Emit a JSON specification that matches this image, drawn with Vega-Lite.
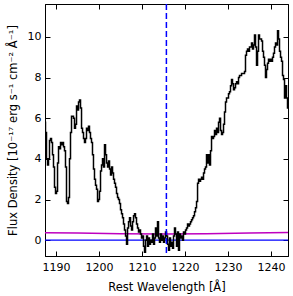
{
  "$schema": "https://vega.github.io/schema/vega-lite/v6.json",
  "width": 243,
  "height": 252,
  "autosize": {"type": "none"},
  "padding": {"left": 45, "top": 4, "right": 5, "bottom": 40},
  "background": "white",
  "config": {
    "view": {"stroke": "black", "strokeWidth": 1},
    "font": "DejaVu Sans",
    "axis": {
      "domainColor": "black", "tickColor": "black", "labelColor": "black", "titleColor": "black",
      "grid": false, "tickSize": -5, "labelFontSize": 11, "titleFontSize": 11.5, "titleFontWeight": "normal",
      "labelFont": "DejaVu Sans", "titleFont": "DejaVu Sans", "format": "d"
    }
  },
  "datasets": {
    "spec": [
      {"w":1187.44,"f":5.8},{"w":1187.67,"f":5.3},{"w":1187.91,"f":4.0},{"w":1188.14,"f":3.7},{"w":1188.37,"f":4.0},{"w":1188.60,"f":4.9},{"w":1188.84,"f":5.0},{"w":1189.07,"f":4.8},{"w":1189.30,"f":4.2},{"w":1189.53,"f":3.6},
      {"w":1189.77,"f":2.6},{"w":1190.00,"f":2.3},{"w":1190.24,"f":2.4},{"w":1190.47,"f":3.8},{"w":1190.70,"f":4.6},{"w":1190.93,"f":4.5},{"w":1191.17,"f":4.8},{"w":1191.40,"f":4.7},{"w":1191.63,"f":4.8},{"w":1191.86,"f":4.6},
      {"w":1192.09,"f":4.4},{"w":1192.32,"f":3.6},{"w":1192.56,"f":1.9},{"w":1192.79,"f":1.8},{"w":1193.02,"f":2.1},{"w":1193.25,"f":4.0},{"w":1193.49,"f":5.3},{"w":1193.72,"f":6.1},{"w":1193.95,"f":6.1},{"w":1194.18,"f":6.0},
      {"w":1194.42,"f":5.5},{"w":1194.65,"f":5.7},{"w":1194.89,"f":6.6},{"w":1195.12,"f":6.4},{"w":1195.35,"f":6.8},{"w":1195.58,"f":6.9},{"w":1195.82,"f":6.5},{"w":1196.05,"f":5.5},{"w":1196.28,"f":5.3},{"w":1196.51,"f":5.0},
      {"w":1196.74,"f":4.8},{"w":1196.97,"f":5.0},{"w":1197.21,"f":5.5},{"w":1197.44,"f":5.4},{"w":1197.67,"f":5.6},{"w":1197.90,"f":5.3},{"w":1198.14,"f":5.0},{"w":1198.37,"f":4.8},{"w":1198.60,"f":4.2},{"w":1198.83,"f":3.5},
      {"w":1199.07,"f":3.0},{"w":1199.30,"f":2.7},{"w":1199.54,"f":2.5},{"w":1199.77,"f":1.9},{"w":1200.00,"f":2.0},{"w":1200.23,"f":2.4},{"w":1200.47,"f":3.4},{"w":1200.70,"f":3.7},{"w":1200.93,"f":4.0},{"w":1201.16,"f":3.6},
      {"w":1201.40,"f":4.7},{"w":1201.63,"f":4.2},{"w":1201.87,"f":3.8},{"w":1202.10,"f":3.6},{"w":1202.33,"f":3.9},{"w":1202.56,"f":3.5},{"w":1202.80,"f":3.2},{"w":1203.03,"f":3.6},{"w":1203.26,"f":3.3},{"w":1203.49,"f":3.0},
      {"w":1203.72,"f":2.8},{"w":1203.95,"f":2.6},{"w":1204.19,"f":2.3},{"w":1204.42,"f":2.1},{"w":1204.65,"f":2.0},{"w":1204.88,"f":1.8},{"w":1205.12,"f":1.5},{"w":1205.35,"f":1.3},{"w":1205.58,"f":1.1},{"w":1205.81,"f":0.8},
      {"w":1206.05,"f":0.5},{"w":1206.28,"f":0.2},{"w":1206.52,"f":-0.2},{"w":1206.75,"f":0.6},{"w":1206.98,"f":0.9},{"w":1207.21,"f":1.1},{"w":1207.45,"f":0.7},{"w":1207.68,"f":0.5},{"w":1207.91,"f":0.9},{"w":1208.14,"f":1.2},
      {"w":1208.37,"f":1.3},{"w":1208.60,"f":1.1},{"w":1208.84,"f":0.8},{"w":1209.07,"f":0.6},{"w":1209.30,"f":0.4},{"w":1209.53,"f":0.5},{"w":1209.77,"f":0.3},{"w":1210.00,"f":0.1},{"w":1210.23,"f":0.2},{"w":1210.46,"f":-0.3},
      {"w":1210.70,"f":-0.6},{"w":1210.93,"f":0.0},{"w":1211.17,"f":0.2},{"w":1211.40,"f":-0.3},{"w":1211.63,"f":0.1},{"w":1211.86,"f":-0.2},{"w":1212.10,"f":0.0},{"w":1212.33,"f":-0.1},{"w":1212.56,"f":0.3},{"w":1212.79,"f":-0.2},
      {"w":1213.02,"f":0.1},{"w":1213.25,"f":0.6},{"w":1213.49,"f":0.2},{"w":1213.72,"f":0.9},{"w":1213.95,"f":0.1},{"w":1214.18,"f":-0.1},{"w":1214.42,"f":0.3},{"w":1214.65,"f":0.0},{"w":1214.88,"f":0.2},{"w":1215.11,"f":-0.1},
      {"w":1215.35,"f":0.1},{"w":1215.58,"f":0.4},{"w":1215.82,"f":0.2},{"w":1216.05,"f":-0.2},{"w":1216.28,"f":-0.5},{"w":1216.51,"f":0.1},{"w":1216.75,"f":-0.3},{"w":1216.98,"f":-0.1},{"w":1217.21,"f":-0.4},{"w":1217.44,"f":0.2},
      {"w":1217.67,"f":0.6},{"w":1217.90,"f":0.3},{"w":1218.14,"f":-0.3},{"w":1218.37,"f":0.4},{"w":1218.60,"f":-0.5},{"w":1218.83,"f":0.3},{"w":1219.07,"f":0.1},{"w":1219.30,"f":0.2},{"w":1219.53,"f":0.0},{"w":1219.76,"f":0.4},
      {"w":1220.00,"f":0.3},{"w":1220.23,"f":0.5},{"w":1220.47,"f":0.6},{"w":1220.70,"f":0.8},{"w":1220.93,"f":0.7},{"w":1221.16,"f":0.8},{"w":1221.40,"f":0.9},{"w":1221.63,"f":1.0},{"w":1221.86,"f":1.1},{"w":1222.09,"f":1.2},
      {"w":1222.33,"f":1.4},{"w":1222.56,"f":1.6},{"w":1222.80,"f":1.9},{"w":1223.03,"f":2.8},{"w":1223.26,"f":3.0},{"w":1223.49,"f":2.9},{"w":1223.73,"f":3.0},{"w":1223.96,"f":3.1},{"w":1224.19,"f":3.0},{"w":1224.42,"f":3.3},
      {"w":1224.65,"f":3.5},{"w":1224.88,"f":3.6},{"w":1225.12,"f":4.2},{"w":1225.35,"f":3.8},{"w":1225.58,"f":4.2},{"w":1225.81,"f":3.7},{"w":1226.05,"f":4.4},{"w":1226.28,"f":5.1},{"w":1226.51,"f":5.0},{"w":1226.74,"f":5.1},
      {"w":1226.98,"f":5.4},{"w":1227.21,"f":5.2},{"w":1227.45,"f":5.5},{"w":1227.68,"f":5.3},{"w":1227.91,"f":5.8},{"w":1228.14,"f":6.0},{"w":1228.38,"f":5.4},{"w":1228.61,"f":5.2},{"w":1228.84,"f":5.3},{"w":1229.07,"f":5.7},
      {"w":1229.30,"f":6.3},{"w":1229.53,"f":6.8},{"w":1229.77,"f":7.0},{"w":1230.00,"f":7.0},{"w":1230.23,"f":7.2},{"w":1230.46,"f":7.3},{"w":1230.70,"f":7.6},{"w":1230.93,"f":7.9},{"w":1231.16,"f":7.7},{"w":1231.39,"f":7.4},
      {"w":1231.63,"f":7.5},{"w":1231.86,"f":7.7},{"w":1232.10,"f":7.8},{"w":1232.33,"f":7.7},{"w":1232.56,"f":8.0},{"w":1232.79,"f":8.1},{"w":1233.03,"f":8.1},{"w":1233.26,"f":8.2},{"w":1233.49,"f":8.2},{"w":1233.72,"f":8.2},
      {"w":1233.95,"f":8.3},{"w":1234.18,"f":9.1},{"w":1234.42,"f":9.3},{"w":1234.65,"f":9.4},{"w":1234.88,"f":9.3},{"w":1235.11,"f":9.5},{"w":1235.35,"f":9.5},{"w":1235.58,"f":9.7},{"w":1235.81,"f":9.4},{"w":1236.04,"f":9.6},
      {"w":1236.28,"f":10.1},{"w":1236.51,"f":9.5},{"w":1236.75,"f":8.6},{"w":1236.98,"f":9.3},{"w":1237.21,"f":10.1},{"w":1237.44,"f":9.9},{"w":1237.68,"f":9.9},{"w":1237.91,"f":9.8},{"w":1238.14,"f":9.3},{"w":1238.37,"f":9.0},
      {"w":1238.60,"f":8.6},{"w":1238.83,"f":8.0},{"w":1239.07,"f":8.4},{"w":1239.30,"f":8.7},{"w":1239.53,"f":8.9},{"w":1239.76,"f":8.8},{"w":1240.00,"f":8.9},{"w":1240.23,"f":8.8},{"w":1240.46,"f":9.0},{"w":1240.69,"f":9.2},
      {"w":1240.93,"f":9.5},{"w":1241.16,"f":9.7},{"w":1241.40,"f":9.6},{"w":1241.63,"f":10.3},{"w":1241.86,"f":9.9},{"w":1242.09,"f":9.3},{"w":1242.33,"f":9.0},{"w":1242.56,"f":8.8},{"w":1242.79,"f":8.1},{"w":1243.02,"f":7.9},
      {"w":1243.26,"f":7.0},{"w":1243.49,"f":7.6},{"w":1243.72,"f":7.0},{"w":1243.95,"f":6.5}
    ],
    "err": [
      {"w":1187.44,"f":0.37},{"w":1195,"f":0.35},{"w":1205,"f":0.32},{"w":1215,"f":0.30},{"w":1225,"f":0.32},{"w":1235,"f":0.35},{"w":1243.95,"f":0.38}
    ]
  },
  "layer": [
    {
      "data": {"name": "err"},
      "mark": {"type": "line", "color": "#BF00BF", "strokeWidth": 1.5, "clip": true},
      "encoding": {
        "x": {"field": "w", "type": "quantitative", "scale": {"domain": [1187.44, 1243.95], "nice": false, "zero": false},
              "axis": {"orient": "top", "labels": false, "title": null, "values": [1190,1200,1210,1220,1230,1240]}},
        "y": {"field": "f", "type": "quantitative", "scale": {"domain": [-0.78, 11.62], "nice": false, "zero": false},
              "axis": {"orient": "right", "labels": false, "title": null, "values": [0,2,4,6,8,10]}}
      }
    },
    {
      "data": {"values": [{"z": 0}]},
      "mark": {"type": "rule", "color": "#0000FF", "strokeWidth": 1.2},
      "encoding": {"y": {"field": "z", "type": "quantitative", "axis": null}}
    },
    {
      "data": {"name": "spec"},
      "mark": {"type": "line", "interpolate": "step", "color": "black", "strokeWidth": 1.5, "clip": true},
      "encoding": {
        "x": {"field": "w", "type": "quantitative", "axis": {"orient": "bottom", "title": "Rest Wavelength [Å]", "values": [1190,1200,1210,1220,1230,1240], "labelPadding": 10, "titlePadding": 9}},
        "y": {"field": "f", "type": "quantitative", "axis": {"orient": "left", "title": "Flux Density [10⁻¹⁷ erg s⁻¹ cm⁻² Å⁻¹]", "values": [0,2,4,6,8,10], "labelPadding": 9, "titlePadding": 9}}
      }
    },
    {
      "data": {"values": [{"l": 1215.67}]},
      "mark": {"type": "rule", "color": "#0000FF", "strokeWidth": 1.5, "strokeDash": [6, 3]},
      "encoding": {"x": {"field": "l", "type": "quantitative", "axis": null}}
    }
  ]
}
